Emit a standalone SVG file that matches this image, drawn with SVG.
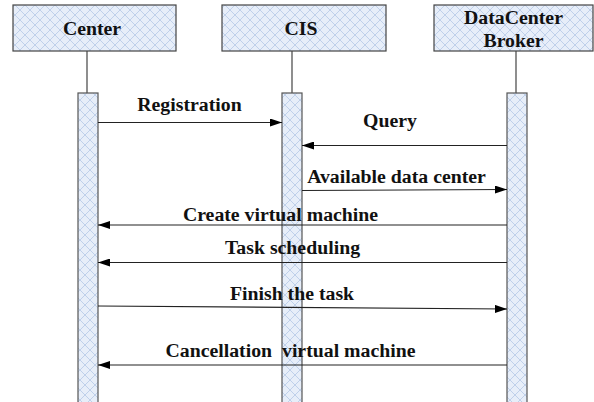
<svg xmlns="http://www.w3.org/2000/svg" width="594" height="402" viewBox="0 0 594 402">
<defs>
<pattern id="hatch" patternUnits="userSpaceOnUse" width="10" height="10">
<rect width="10" height="10" fill="#e7eef9"/>
<path d="M0,0 L10,10 M10,0 L0,10" stroke="#bfd0ea" stroke-width="1" fill="none"/>
</pattern>
<marker id="arr" markerWidth="12" markerHeight="8" refX="12" refY="4" orient="auto" markerUnits="userSpaceOnUse">
<path d="M0,0 L12,4 L0,8 Z" fill="#000"/>
</marker>
</defs>
<style>
.box{fill:url(#hatch);stroke:#444;stroke-width:1.2}
.bar{fill:url(#hatch);stroke:#555;stroke-width:1.2}
.life{stroke:#444;stroke-width:1.2}
.msg{stroke:#222;stroke-width:1.1;fill:none;marker-end:url(#arr)}
text{font-family:"Liberation Serif","Times New Roman",serif;font-weight:bold;font-size:19.8px;fill:#111;text-anchor:middle;white-space:pre}
</style>
<rect width="594" height="402" fill="#fff"/>
<g id="center">
<rect class="box" x="13" y="5" width="163" height="46"/>
<text x="92" y="35">Center</text>
<line class="life" x1="87" y1="51" x2="87" y2="93"/>
<rect class="bar" x="78" y="93" width="20" height="312"/>
</g>
<g id="cis">
<rect class="box" x="222" y="5" width="164" height="46"/>
<text x="301" y="35">CIS</text>
<line class="life" x1="292" y1="51" x2="292" y2="93"/>
<rect class="bar" x="282" y="93" width="20" height="312"/>
</g>
<g id="broker">
<rect class="box" x="434" y="5" width="159" height="46"/>
<text x="513.5" y="24">DataCenter</text>
<text x="513.5" y="47">Broker</text>
<line class="life" x1="516" y1="51" x2="516" y2="93"/>
<rect class="bar" x="507" y="93" width="20" height="312"/>
</g>
<g id="connectors">
<line class="msg" x1="98" y1="122.5" x2="282" y2="122.5"/>
<text x="189.5" y="111">Registration</text>
<line class="msg" x1="507" y1="145.5" x2="302" y2="145.5"/>
<text x="390" y="127">Query</text>
<line class="msg" x1="302" y1="190.5" x2="507" y2="189.5"/>
<text x="396.5" y="183">Available data center</text>
<line class="msg" x1="507" y1="225" x2="98" y2="225"/>
<text x="280.5" y="221">Create virtual machine</text>
<line class="msg" x1="507" y1="262.5" x2="98" y2="262.5"/>
<text x="292.5" y="254">Task scheduling</text>
<line class="msg" x1="98" y1="306" x2="507" y2="309"/>
<text x="292" y="300">Finish the task</text>
<line class="msg" x1="507" y1="365" x2="98" y2="365"/>
<text x="290.5" y="357">Cancellation  virtual machine</text>
</g>
</svg>
